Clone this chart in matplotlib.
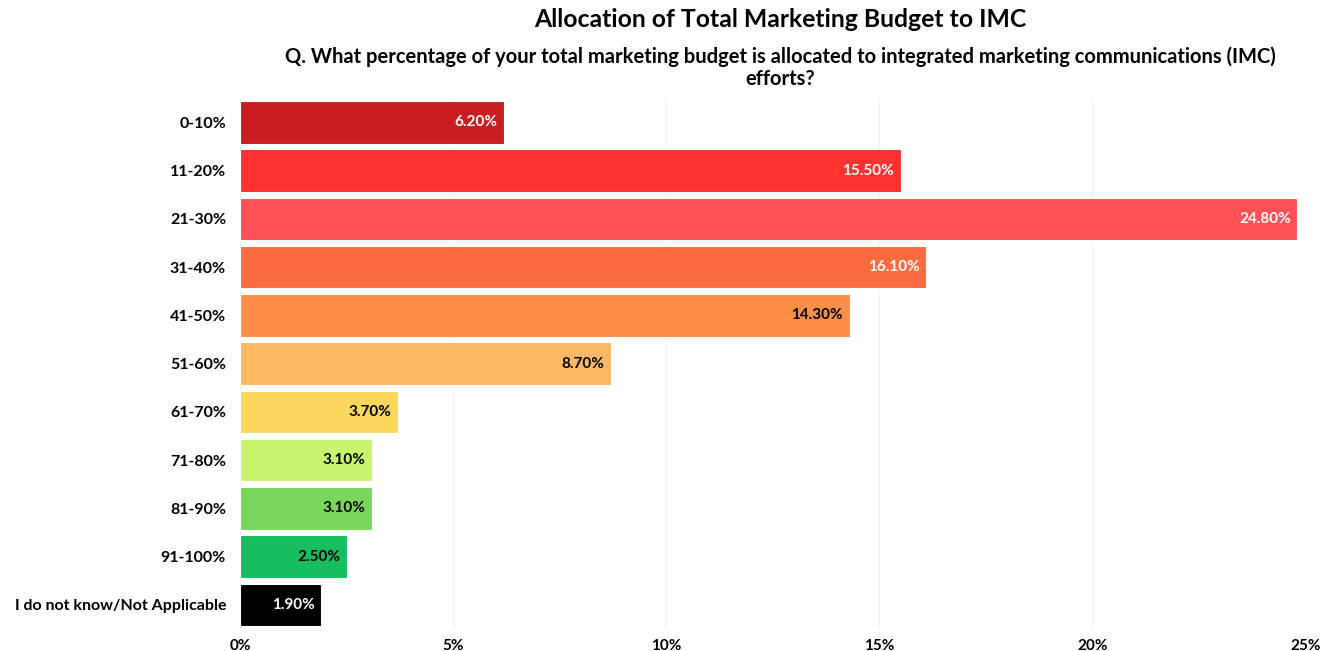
import matplotlib.pyplot as plt
from matplotlib.ticker import MultipleLocator, FuncFormatter

plt.rcParams['font.family'] = ['Lato', 'DejaVu Sans']
plt.rcParams['font.weight'] = 'bold'

categories = ['0-10%', '11-20%', '21-30%', '31-40%', '41-50%', '51-60%',
              '61-70%', '71-80%', '81-90%', '91-100%', 'I do not know/Not Applicable']
shares = [6.2, 15.5, 24.8, 16.1, 14.3, 8.7, 3.7, 3.1, 3.1, 2.5, 1.9]
colors = ['#C91D1F', '#FF3131', '#FB5157', '#FA6B40', '#FC8F47', '#FDB863',
          '#FCD75B', '#C9F56E', '#79D65B', '#15BF60', '#000000']
label_colors = ['white'] * 4 + ['black'] * 6 + ['white']

fig = plt.figure(figsize=(13.31, 6.51), dpi=100)
ax = fig.add_axes([0.1803, 0.034, 0.8006, 0.815])

y = list(range(len(categories)))
ax.barh(y, shares, height=0.88, color=colors, edgecolor='white', linewidth=0.8, zorder=2)

for yi, val, tc in zip(y, shares, label_colors):
    ax.text(val - 0.15, yi, f'{val:.2f}%', ha='right', va='center',
            color=tc, fontsize=11, fontweight='bold', zorder=3)

ax.set_yticks(y)
ax.set_yticklabels(categories)
ax.invert_yaxis()
ax.set_ylim(len(categories) - 0.5, -0.5)
ax.set_xlim(0, 25)
ax.xaxis.set_major_locator(MultipleLocator(5))
ax.xaxis.set_major_formatter(FuncFormatter(lambda v, p: f'{v:.0f}%'))
ax.tick_params(axis='y', length=0, labelsize=11.5, pad=10)
ax.tick_params(axis='x', length=0, labelsize=11, pad=7)
ax.grid(axis='x', color='#F2F2F2', linewidth=0.8, zorder=0)
for s in ax.spines.values():
    s.set_visible(False)

fig.text(0.586, 0.97, 'Allocation of Total Marketing Budget to IMC',
         ha='center', va='center', fontsize=17.8, fontweight='bold')
fig.text(0.586, 0.896, 'Q. What percentage of your total marketing budget is allocated to '
         'integrated marketing communications (IMC)\nefforts?',
         ha='center', va='center', fontsize=14.5, fontweight='bold', linespacing=1.15)

fig.savefig('out.png', dpi=100)
